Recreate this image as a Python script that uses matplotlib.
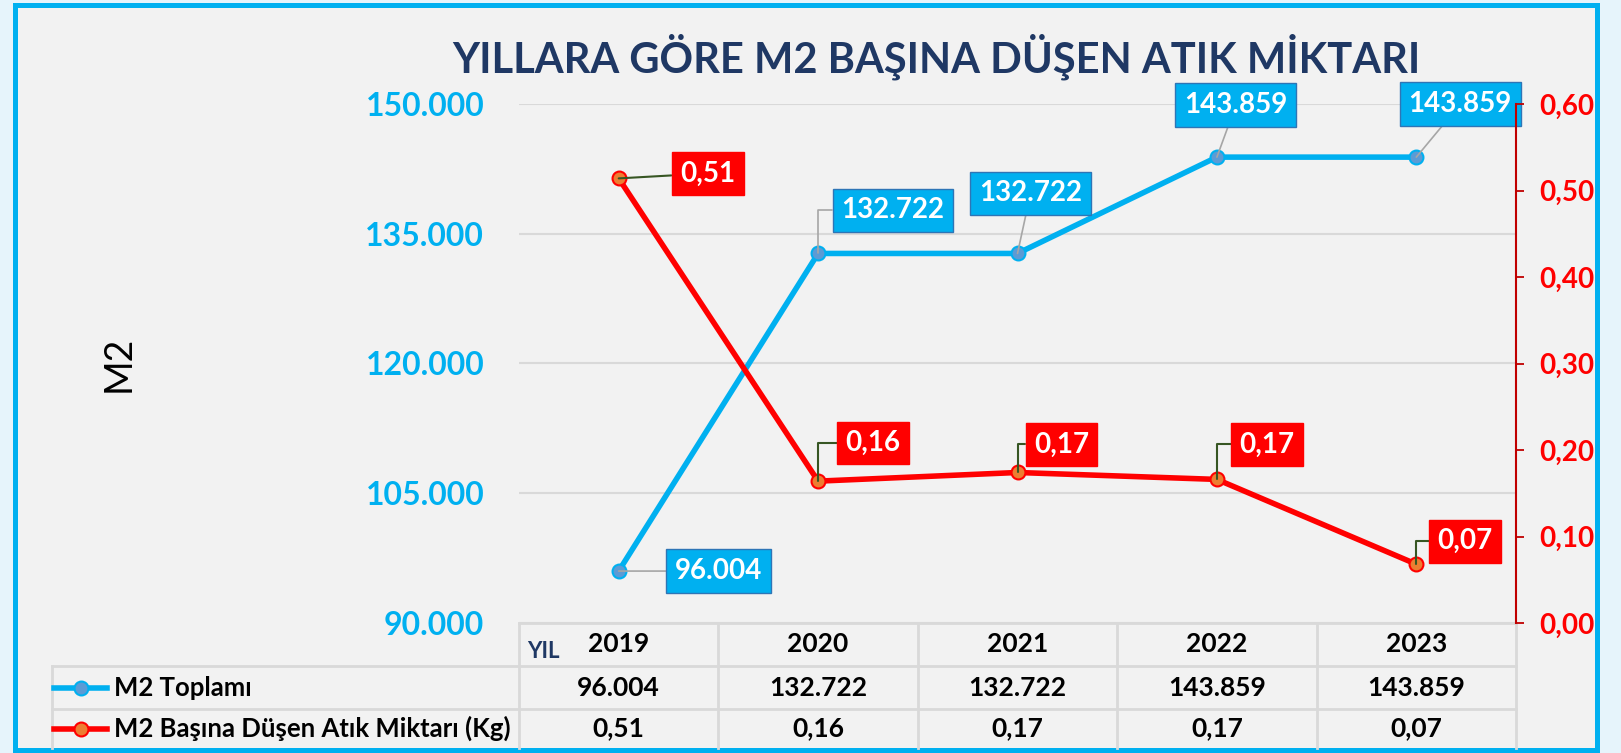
import matplotlib
matplotlib.use("Agg")
import matplotlib.pyplot as plt
from matplotlib.patches import Rectangle
from matplotlib.lines import Line2D

plt.rcParams['font.family'] = ['Lato', 'DejaVu Sans']

years = ["2019", "2020", "2021", "2022", "2023"]
m2_total = [96004, 132722, 132722, 143859, 143859]
waste_per_m2 = [0.514, 0.164, 0.174, 0.166, 0.068]

title = "YILLARA GÖRE M2 BAŞINA DÜŞEN ATIK MİKTARI"
row_names = ["M2 Toplamı", "M2 Başına Düşen Atık Miktarı (Kg)"]

# label offsets in pixels (dx, dy) and leader styles
blue_offsets = [(100, 0), (75, 43), (13, 60), (19, 52), (44, 53)]
red_offsets = [(89, 5), (55, 38), (44, 28), (50, 35), (49, 23)]
ELBOW = "angle,angleA=180,angleB=90,rad=0"
STRAIGHT = "arc3"
blue_leaders = [STRAIGHT, ELBOW, STRAIGHT, STRAIGHT, STRAIGHT]
red_leaders = [STRAIGHT, ELBOW, ELBOW, ELBOW, ELBOW]

W, H = 1621, 753
CYAN = "#00b0f0"
RED = "#ff0000"
NAVY = "#1f3864"
GRID = "#d9d9d9"


def tr_num(v):
    return f"{v:,.0f}".replace(",", ".")


def tr_dec(v):
    return f"{v:.2f}".replace(".", ",")


fig = plt.figure(figsize=(W / 100, H / 100), dpi=100)
fig.patch.set_facecolor("#e6f4fb")
frame = Rectangle((15 / W, 3.5 / H), 1582 / W, 745 / H, transform=fig.transFigure,
                  facecolor="#f2f2f2", edgecolor=CYAN, linewidth=3.6, zorder=-10)
fig.patches.append(frame)

# plot area
top, bot, left, right = 104, 623, 519, 1516
ax = fig.add_axes([left / W, (H - bot) / H, (right - left) / W, (bot - top) / H])
ax.set_facecolor("none")
x = list(range(len(years)))
ax.plot(x, m2_total, color=CYAN, lw=4, marker="o", ms=10,
        mfc="#5b9bd5", mec=CYAN, mew=1.5, zorder=3)
ax.set_xlim(-0.5, len(years) - 0.5)
ax.set_ylim(90000, 150000)
ax.set_yticks(range(90000, 150001, 15000))
ax.set_yticklabels([tr_num(v) for v in range(90000, 150001, 15000)])
ax.set_xticks([])
ax.tick_params(axis="y", length=0, pad=25, labelsize=23, labelcolor=CYAN)
for lab in ax.get_yticklabels():
    lab.set_fontweight("bold")
ax.yaxis.grid(True, color=GRID, lw=1.5)
ax.set_axisbelow(True)
for s in ax.spines.values():
    s.set_visible(False)
ax.set_ylabel("M2", fontsize=27, color="black", labelpad=0)
ax.yaxis.set_label_coords(-0.384, 0.5)

for i, v in enumerate(m2_total):
    ax.annotate(tr_num(v), (i, v), xytext=blue_offsets[i], textcoords="offset pixels",
                ha="center", va="center", fontsize=20, fontweight="bold", color="white",
                bbox=dict(boxstyle="square,pad=0.32", fc=CYAN, ec="#2e75b6", lw=1),
                arrowprops=dict(arrowstyle="-", color="#a6a6a6", lw=1.2, shrinkA=0, shrinkB=0,
                                connectionstyle=blue_leaders[i]),
                zorder=5)

ax2 = ax.twinx()
ax2.set_facecolor("none")
ax2.plot(x, waste_per_m2, color=RED, lw=4, marker="o", ms=10,
         mfc="#ed7d31", mec=RED, mew=1.5, zorder=3)
ax2.set_ylim(0, 0.6)
ax2.set_yticks([i / 10 for i in range(7)])
ax2.set_yticklabels([tr_dec(i / 10) for i in range(7)])
ax2.tick_params(axis="y", direction="out", length=6, width=1.3, color="#c00000",
                pad=11, labelsize=20, labelcolor=RED)
for lab in ax2.get_yticklabels():
    lab.set_fontweight("bold")
for k, s in ax2.spines.items():
    s.set_visible(k == "right")
ax2.spines["right"].set_color("#c00000")
ax2.spines["right"].set_linewidth(1.5)

for i, v in enumerate(waste_per_m2):
    ax2.annotate(tr_dec(v), (i, v), xytext=red_offsets[i], textcoords="offset pixels",
                 ha="center", va="center", fontsize=20, fontweight="bold", color="white",
                 bbox=dict(boxstyle="square,pad=0.3", fc=RED, ec=RED, lw=1),
                 arrowprops=dict(arrowstyle="-", color="#375623", lw=1.5, shrinkA=0, shrinkB=0,
                                 connectionstyle=red_leaders[i]),
                 zorder=5)

fig.text(936 / W, 1 - 57 / H, title, ha="center", va="center",
         fontsize=30, fontweight="bold", color=NAVY)

# data table in pixel coords
tab = fig.add_axes([0, 0, 1, 1], zorder=-1)
tab.set_xlim(0, W)
tab.set_ylim(H, 0)
tab.axis("off")
tab.patch.set_visible(False)

cx = [ax.transData.transform((i, 0))[0] for i in x]
edges = [ax.transData.transform((i - 0.5, 0))[0] for i in range(len(years) + 1)]
rows_y = [623, 666, 709, 748]
tab.plot([edges[0], edges[-1]], [rows_y[0]] * 2, color=GRID, lw=2)
for yy in rows_y[1:3]:
    tab.plot([52, edges[-1]], [yy, yy], color=GRID, lw=2)
for ex in edges:
    tab.plot([ex, ex], [rows_y[0], rows_y[-1]], color=GRID, lw=2)
tab.plot([52, 52], [rows_y[1], rows_y[-1]], color=GRID, lw=2)

tab.text(edges[0] + 8, 652, "YIL", ha="left", va="center", fontsize=16,
         fontweight="bold", color=NAVY)
row_c = [(rows_y[k] + rows_y[k + 1]) / 2 for k in range(3)]
for i in x:
    tab.text(cx[i], row_c[0], years[i], ha="center", va="center", fontsize=19, fontweight="bold")
    tab.text(cx[i], row_c[1], tr_num(m2_total[i]), ha="center", va="center", fontsize=19, fontweight="bold")
    tab.text(cx[i], row_c[2], tr_dec(waste_per_m2[i]), ha="center", va="center", fontsize=19, fontweight="bold")

keys = [(CYAN, "#5b9bd5"), (RED, "#ed7d31")]
for k, (lc, fc) in enumerate(keys):
    yy = row_c[k + 1]
    tab.add_line(Line2D([54, 107], [yy, yy], color=lc, lw=4))
    tab.add_line(Line2D([81], [yy], marker="o", ms=10, mfc=fc, mec=lc, mew=1.5))
    tab.text(114, yy, row_names[k], ha="left", va="center", fontsize=18.5, fontweight="bold")

fig.savefig("out.png", dpi=100, facecolor=fig.get_facecolor())
